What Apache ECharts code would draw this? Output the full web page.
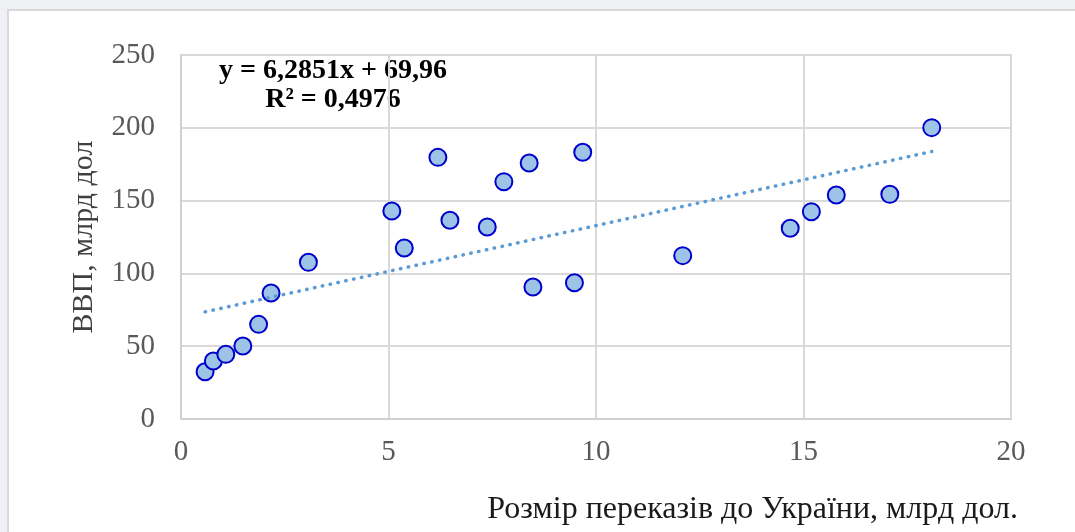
<!DOCTYPE html>
<html>
<head>
<meta charset="utf-8">
<script src="https://cdn.jsdelivr.net/npm/echarts@6/dist/echarts.min.js"></script>
<style>
  html, body { margin: 0; padding: 0; background: #eef0f4; }
  #chart { width: 1075px; height: 532px; }
</style>
</head>
<body>
<div id="chart"></div>
<script>
// remittances to Ukraine (bn USD) vs GDP (bn USD)
const remittances = [0.58, 0.78, 1.08, 1.49, 1.87, 2.17, 3.07, 5.08, 5.38, 6.19, 6.48, 7.38,
  7.78, 8.39, 8.48, 9.48, 9.68, 12.09, 14.68, 15.19, 15.79, 17.08, 18.09]
const gdp = [32.5, 39.8, 44.4, 50.1, 65.0, 86.5, 107.6, 142.9, 117.4, 179.7, 136.5, 131.9,
  163.0, 175.8, 90.7, 93.6, 183.2, 112.2, 131.0, 142.4, 153.8, 154.3, 200.1]
// linear trend line end points as drawn
const trendX = [0.58, 18.09]
const trendY = [73.6, 183.7]
const equationText = 'y = 6,2851x + 69,96'
const r2Text = 'R² = 0,4976'
const xTicks = [0, 20, 5]
const yTicks = [0, 250, 50]

const points = remittances.map((x, i) => [x, gdp[i]])
const trend = trendX.map((x, i) => [x, trendY[i]])

const serif = '"Liberation Serif", "Times New Roman", serif'
const chart = echarts.init(document.getElementById('chart'))
chart.setOption({
  backgroundColor: '#eef0f4',
  animation: false,
  grid: {
    left: 181,
    top: 55,
    width: 830,
    height: 364,
    show: true,
    borderColor: '#d9d9d9',
    borderWidth: 2
  },
  graphic: [
    {
      type: 'rect',
      z: -10,
      shape: { x: 8, y: 10, width: 1100, height: 560 },
      style: { fill: '#ffffff', stroke: '#d9d9d9', lineWidth: 2 }
    },
    {
      type: 'text',
      x: 333,
      y: 71,
      style: {
        text: equationText,
        font: 'bold 28px ' + serif,
        fill: '#000000',
        textAlign: 'center',
        textVerticalAlign: 'middle'
      }
    },
    {
      type: 'text',
      x: 333,
      y: 100,
      style: {
        text: r2Text,
        font: 'bold 28px ' + serif,
        fill: '#000000',
        textAlign: 'center',
        textVerticalAlign: 'middle'
      }
    },
    {
      type: 'text',
      x: 1018,
      y: 510,
      style: {
        text: 'Розмір переказів до України, млрд дол.',
        font: '32px ' + serif,
        fill: '#1a1a1a',
        textAlign: 'right',
        textVerticalAlign: 'middle'
      }
    }
  ],
  xAxis: {
    type: 'value',
    min: xTicks[0],
    max: xTicks[1],
    interval: xTicks[2],
    axisLine: { show: true, lineStyle: { color: '#d0d0d0', width: 2 } },
    axisTick: { show: false },
    axisLabel: { fontFamily: serif, fontSize: 29, color: '#595959', margin: 19 },
    splitLine: { show: true, lineStyle: { color: '#d9d9d9', width: 2 } }
  },
  yAxis: {
    type: 'value',
    min: yTicks[0],
    max: yTicks[1],
    interval: yTicks[2],
    name: 'ВВП, млрд дол',
    nameLocation: 'middle',
    nameGap: 82,
    nameRotate: 90,
    nameTextStyle: { fontFamily: serif, fontSize: 30, color: '#404040' },
    axisLine: { show: true, lineStyle: { color: '#d0d0d0', width: 2 } },
    axisTick: { show: false },
    axisLabel: { fontFamily: serif, fontSize: 29, color: '#595959', margin: 26 },
    splitLine: { show: true, lineStyle: { color: '#d9d9d9', width: 2 } }
  },
  series: [
    {
      name: 'ВВП',
      type: 'scatter',
      data: points,
      symbol: 'circle',
      symbolSize: 17,
      itemStyle: { color: '#9dc3e6', borderColor: '#0000cc', borderWidth: 2, opacity: 1 }
    },
    {
      name: 'Тренд',
      type: 'line',
      data: trend,
      symbol: 'none',
      z: 5,
      lineStyle: { color: '#5b9bd5', width: 3.5, type: [0.5, 7.5], cap: 'round' }
    }
  ]
})
</script>
</body>
</html>
